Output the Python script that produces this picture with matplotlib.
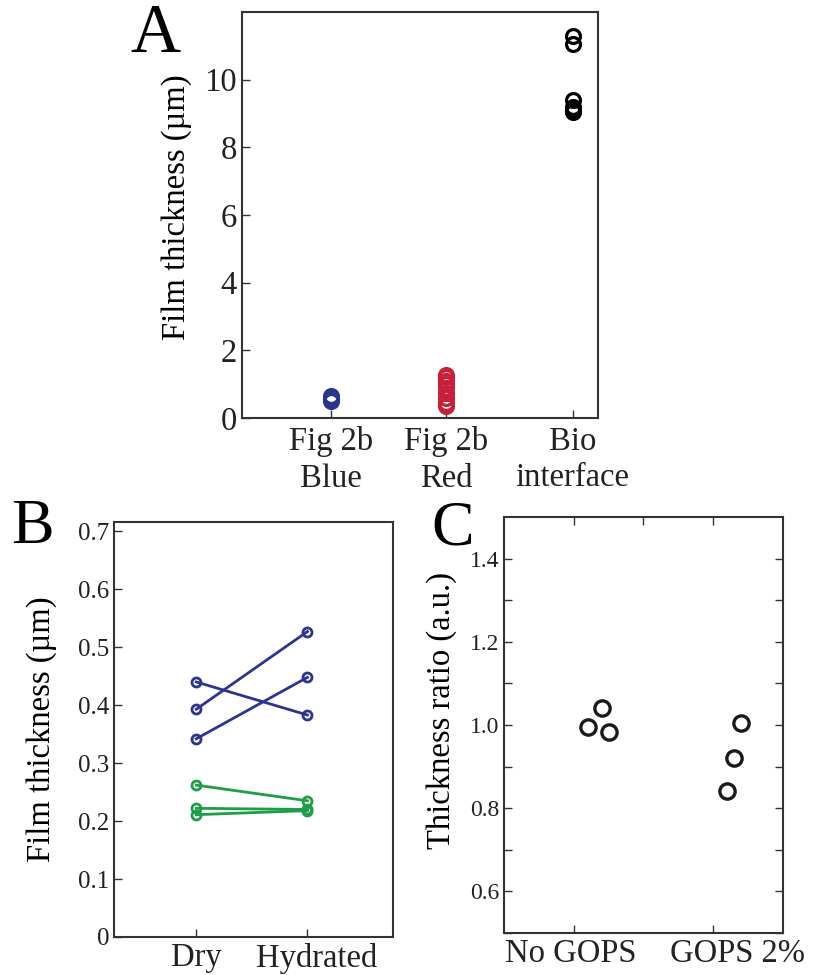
import numpy as np
import matplotlib
matplotlib.use("Agg")
import matplotlib.pyplot as plt
from matplotlib.transforms import ScaledTranslation

plt.rcParams["font.family"] = ["Liberation Serif", "DejaVu Serif"]

# panel A: film thickness per sample group
groups_a = ["Fig 2b\nBlue", "Fig 2b\nRed", "Bio\ninterface"]
pos_a = [1, 2, 3.1]
blue_a = [0.50, 0.55, 0.60, 0.65]
red_a = [0.35, 0.45, 0.60, 0.75, 0.90, 1.00, 1.10, 1.20, 1.26]
bio_a = [9.03, 9.08, 9.13, 9.20, 9.40, 11.04, 11.28]

# panel B: dry vs hydrated
conds_b = ["Dry", "Hydrated"]
blue_dry = [0.440, 0.393, 0.342]
blue_hyd = [0.383, 0.527, 0.448]
green_dry = [0.262, 0.222, 0.211]
green_hyd = [0.235, 0.220, 0.218]

# panel C: thickness ratio
groups_c = ["No GOPS", "GOPS 2%"]
x_nogops = [1.10, 1.20, 1.25]
y_nogops = [0.996, 1.041, 0.983]
x_gops = [2.20, 2.15, 2.10]
y_gops = [1.005, 0.921, 0.842]

BLUE = "#2B3590"
RED = "#C8203A"
GREEN = "#1E9E48"
SPINE = "#333333"
LABEL = 23.5

fig = plt.figure(figsize=(8.21, 9.75), dpi=100)


def style_axes(ax, tick_size):
    for s in ax.spines.values():
        s.set_color(SPINE)
        s.set_linewidth(1.5)
    ax.tick_params(which="both", direction="in", length=6, width=1.0, color=SPINE,
                   labelsize=tick_size, labelcolor="#222222")


def nudge_label(ax, idx, dx_px):
    lab = ax.get_xticklabels()[idx]
    lab.set_transform(lab.get_transform() + ScaledTranslation(dx_px / 100, 0, fig.dpi_scale_trans))


# ---- A ----
axA = fig.add_axes([0.2944, 0.5713, 0.4340, 0.4164])
for x, vals, col in zip(pos_a, [blue_a, red_a, bio_a], [BLUE, RED, "black"]):
    axA.plot([x] * len(vals), vals, "o", ms=10, mfc="none", mec=col, mew=2.3)
axA.set_xlim(0.22, 3.32)
axA.set_ylim(0, 12)
axA.set_yticks([0, 2, 4, 6, 8, 10])
axA.set_xticks(pos_a)
axA.set_xticklabels(groups_a, linespacing=1.25)
style_axes(axA, LABEL)
axA.tick_params(axis="x", pad=6)
axA.set_ylabel("Film thickness (µm)", fontsize=LABEL)
axA.yaxis.set_label_coords(-0.14, 0.518)
fig.text(0.189, 0.964, "A", fontsize=50, ha="center", va="center")

# ---- B ----
axB = fig.add_axes([0.1389, 0.0390, 0.3398, 0.4256])
for d, h in zip(blue_dry, blue_hyd):
    axB.plot([1, 2], [d, h], "-o", color=BLUE, lw=2.0, ms=6.5, mfc="none", mew=2.0)
for d, h in zip(green_dry, green_hyd):
    axB.plot([1, 2], [d, h], "-o", color=GREEN, lw=2.0, ms=6.5, mfc="none", mew=2.0)
axB.set_xlim(0.26, 2.77)
axB.set_ylim(0, 0.716)
axB.set_yticks(np.arange(0, 0.71, 0.1))
axB.set_yticklabels(["0", "0.1", "0.2", "0.3", "0.4", "0.5", "0.6", "0.7"])
axB.set_xticks([1, 2])
axB.set_xticklabels(conds_b)
style_axes(axB, 18)
axB.tick_params(axis="x", labelsize=LABEL, pad=4)
nudge_label(axB, 1, 9)
axB.set_ylabel("Film thickness (µm)", fontsize=LABEL)
axB.yaxis.set_label_coords(-0.204, 0.5)
fig.text(0.040, 0.458, "B", fontsize=46, ha="center", va="center")

# ---- C ----
axC = fig.add_axes([0.6139, 0.0431, 0.3398, 0.4266])
axC.plot(x_nogops, y_nogops, "o", ms=11, mfc="none", mec="#1a1a1a", mew=2.4)
axC.plot(x_gops, y_gops, "o", ms=11, mfc="none", mec="#1a1a1a", mew=2.4)
axC.set_xlim(0.5, 2.5)
axC.set_ylim(0.5, 1.5)
axC.set_yticks([0.6, 0.8, 1.0, 1.2, 1.4])
axC.set_yticks(np.arange(0.5, 1.45, 0.1), minor=True)
axC.set_xticks([1, 2])
axC.set_xticks([1.5], minor=True)
axC.set_xticklabels(groups_c)
style_axes(axC, 17)
axC.tick_params(axis="y", which="both", right=True)
axC.tick_params(axis="x", which="both", top=True)
axC.tick_params(axis="x", which="minor", bottom=False)
axC.tick_params(axis="x", labelsize=LABEL, pad=4)
nudge_label(axC, 0, -3)
nudge_label(axC, 1, 24)
axC.set_ylabel("Thickness ratio (a.u.)", fontsize=LABEL)
axC.yaxis.set_label_coords(-0.168, 0.536)
fig.text(0.551, 0.457, "C", fontsize=46, ha="center", va="center")

fig.savefig("out.png", dpi=100)
